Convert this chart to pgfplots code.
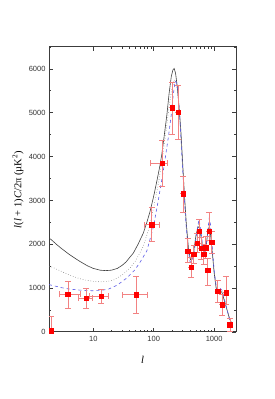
\documentclass[border=0pt]{standalone}
\usepackage{pgfplots}
\pgfplotsset{compat=1.18}
\usepackage{fontspec}
\setmainfont{Liberation Serif}
\newfontfamily\ticksf{Liberation Sans}
\definecolor{errred}{RGB}{242,130,130}
\definecolor{curveblue}{RGB}{90,90,230}
\definecolor{axisgray}{RGB}{60,60,60}
\pgfplotstableread{
l v exm exp eym eyp
2 30 0 0 30 320
3.8 860 1.1 2.2 316 297
7.6 770 1.9 2.2 220 220
13.4 810 4.8 4.3 150 165
51 850 21 28 420 410
93 2450 24 31 380 385
139 3846 50 29 530 515
200 5116 0 0 600 580
257 5018 0 0 620 610
311 3152 0 0 430 400
365 1845 0 0 250 280
415 1474 0 0 230 230
460 1775 0 0 200 200
520 2032 0 0 220 220
568 2297 0 0 265 265
615 1918 0 0 250 250
670 1780 0 0 230 230
720 1927 0 0 250 250
780 1413 0 0 340 270
835 2300 0 0 220 430
905 2054 0 0 250 250
1140 925 0 0 250 250
1350 620 0 0 230 230
1580 900 0 0 260 360
1820 170 0 0 150 150
}\datatab
\begin{document}
\begin{tikzpicture}
\path[use as bounding box] (0,0) rectangle (274pt,399pt);
\begin{axis}[
  at={(49pt,67pt)}, anchor=south west,
  scale only axis, width=187pt, height=285pt,
  xmode=log, xmin=1.85, xmax=2300, ymin=0, ymax=6500,
  xtick={10,100,1000}, xticklabels={10,100,1000},
  ytick={0,1000,2000,3000,4000,5000,6000},
  yticklabels={0,1000,2000,3000,4000,5000,6000},
  minor ytick={500,1500,2500,3500,4500,5500,6500},
  tick align=inside, major tick length=4pt, minor tick length=2pt,
  tick style={axisgray, line width=0.8pt},
  axis line style={axisgray, line width=1pt},
  ticklabel style={font=\ticksf\fontsize{7.5}{9}\selectfont, text=black!80},
  xticklabel style={yshift=-1pt},
  xlabel={\textit{l}}, ylabel={\textit{l}(\textit{l} + 1)\textit{C}/2π (µK\textsuperscript{2})},
  label style={font=\fontsize{10.5}{12}\selectfont},
  xlabel style={at={(axis description cs:0.5,-0.098)}, anchor=center},
  ylabel style={at={(axis description cs:-0.166,0.5)}, anchor=center, rotate=0},
  clip=true,
]
% black solid
\addplot[no marks, color=black!75, line width=0.6pt] coordinates {
(1.85,2140) (2,2110) (2.5,1990) (3,1900) (4,1770) (5,1680) (6,1610) (8,1510) (10,1450) (13,1410) (16,1400) (20,1410) (25,1450) (30,1520) (35,1600) (40,1700) (46,1800) (55,2000) (67,2250) (77,2500) (87,2750) (100,3100) (113,3450) (125,3750) (136,4050) (150,4500) (165,4950) (180,5450) (195,5820) (208,5980) (218,6010) (230,5900) (245,5600) (260,5200) (281,4600) (300,3900) (320,3200) (345,2500) (376,1900) (405,1650) (430,1680) (460,1850) (500,2200) (540,2400) (570,2380) (610,2150) (650,1900) (690,1780) (730,1900) (780,2250) (820,2380) (860,2300) (920,1900) (1000,1350) (1080,1000) (1150,900) (1250,950) (1350,900) (1450,750) (1600,550) (1800,300) (1950,200) (2000,170)
};
% gray dotted
\addplot[no marks, color=black!50, dotted, line width=0.6pt] coordinates {
(1.85,1500) (2,1490) (3,1380) (4,1300) (5,1250) (7,1190) (10,1155) (13,1145) (17,1150) (22,1190) (30,1300) (40,1450) (50,1620) (67,1950) (85,2400) (100,2850) (120,3400) (140,4000) (160,4600) (180,5150) (200,5550) (220,5750) (235,5700) (250,5450) (270,4900) (290,4200) (310,3500) (340,2600) (370,1950) (400,1650) (430,1650) (470,1880) (520,2300) (560,2480) (600,2300) (640,2000) (690,1790) (740,1930) (790,2300) (830,2450) (870,2350) (920,1950) (1000,1380) (1080,1020) (1150,920) (1250,970) (1350,920) (1450,770) (1600,550) (1800,300) (2000,175)
};
% blue dashed
\addplot[no marks, color=curveblue, dashed, line width=0.6pt] coordinates {
(1.85,1080) (2,1070) (3,1010) (4,980) (6,955) (8,945) (10,940) (13,945) (18,980) (25,1070) (35,1220) (49,1420) (60,1600) (77,1850) (99,2400) (119,3000) (145,3700) (175,4450) (195,4950) (210,5400) (226,5720) (240,5680) (255,5400) (270,4900) (290,4100) (310,3400) (340,2500) (370,1900) (400,1600) (430,1600) (470,1850) (520,2300) (560,2560) (600,2350) (640,2000) (690,1800) (740,1950) (790,2350) (830,2600) (870,2450) (920,2000) (1000,1400) (1080,1050) (1150,950) (1250,1000) (1350,950) (1450,800) (1600,550) (1800,300) (2000,180)
};
% data
\addplot[only marks, mark=square*, mark size=2.2pt, color=red, mark options={fill=red, draw=red},
  error bars/.cd, x dir=both, x explicit, y dir=both, y explicit,
  error bar style={color=errred, line width=0.7pt},
  error mark options={rotate=90, mark size=3pt, color=errred, line width=0.7pt}]
  table[x=l, y=v, x error plus=exp, x error minus=exm, y error plus=eyp, y error minus=eym] {\datatab};
\end{axis}
\end{tikzpicture}
\end{document}
